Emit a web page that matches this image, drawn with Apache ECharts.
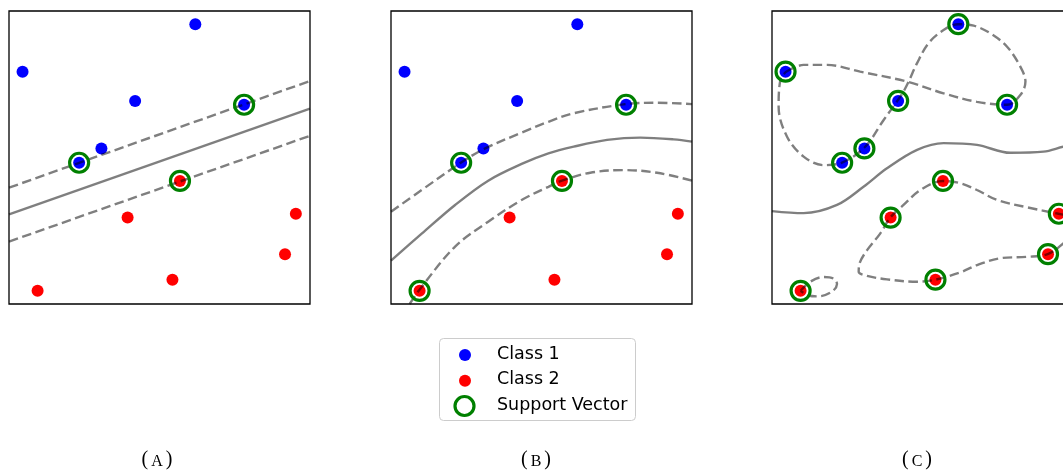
<!DOCTYPE html>
<html><head><meta charset="utf-8">
<script src="https://cdn.jsdelivr.net/npm/echarts@6/dist/echarts.min.js"></script>
<style>html,body{margin:0;padding:0;background:#fff}#c{width:1063px;height:475px}</style>
</head><body><div id="c"></div>
<script>
// Data points (shared by all three panels), x/y in 0..10 units
const class1 = [[6.19,9.55],[0.45,7.93],[4.19,6.93],[3.07,5.31],[2.33,4.82],[7.81,6.80]];
const class2 = [[5.68,4.20],[3.94,2.95],[9.53,3.08],[9.17,1.70],[5.43,0.83],[0.95,0.45]];

// Support vector indices per panel
const svA1 = [4,5], svA2 = [0];
const svB1 = [4,5], svB2 = [0,5];
const svC1 = [0,1,2,3,4,5], svC2 = [0,1,2,3,4,5];

// Panel A: linear boundary and margins
const aMid   = [[0,3.06],[10,6.67]];
const aUpper = [[0,3.97],[10,7.61]];
const aLower = [[0,2.13],[10,5.74]];

// Panel B: polynomial boundary and margins
const bMid = [[0,1.48],[1.02,2.40],[2.13,3.38],[3.23,4.21],[4.34,4.78],[5.23,5.14],[6.07,5.37],[7.18,5.60],[8.28,5.68],[9.39,5.62],[10,5.54]];
const bUpper = [[0,3.15],[1.02,3.89],[2.29,4.80],[3.07,5.28],[4.34,5.85],[5.23,6.22],[6.07,6.51],[7.78,6.82],[8.84,6.87],[10,6.82]];
const bLower = [[0.62,0],[0.94,0.48],[2.13,1.96],[3.23,2.81],[4.34,3.55],[5.23,4.00],[5.68,4.21],[6.62,4.48],[7.73,4.57],[8.84,4.48],[10,4.21]];

// Panel C: RBF boundary and margins
const cMid = [[0,3.17],[1.05,3.10],[2.16,3.38],[3.04,4.00],[3.82,4.63],[4.82,5.26],[5.70,5.49],[6.81,5.43],[7.92,5.16],[9.02,5.20],[9.68,5.37],[10.1,5.45]];
const cUpper = [[0.47,7.93],[1.05,8.16],[1.83,8.16],[2.93,7.93],[4.49,7.59],[5.70,7.19],[6.81,6.90],[7.81,6.80],[8.25,7.13],[8.42,7.59],[8.25,8.10],[7.81,8.78],[7.25,9.24],[6.70,9.50],[6.18,9.55],[5.70,9.35],[5.20,8.90],[4.82,8.22],[4.54,7.59],[4.37,7.25],[4.17,6.94],[3.71,6.28],[3.08,5.35],[2.31,4.82],[1.71,4.74],[1.05,5.03],[0.50,5.71],[0.22,6.73],[0.28,7.65],[0.47,7.93]];
const cLower = [[10.18,2.95],[9.52,3.08],[8.47,3.30],[7.48,3.55],[6.81,3.89],[6.26,4.12],[5.68,4.20],[4.93,3.89],[4.37,3.38],[3.93,2.95],[3.60,2.41],[3.16,1.84],[2.91,1.39],[2.88,1.10],[3.16,0.96],[3.82,0.84],[4.82,0.76],[5.43,0.83],[6.26,1.08],[6.81,1.33],[7.58,1.56],[8.47,1.61],[9.16,1.70],[9.68,2.07],[10.08,2.46]];
const cLoop = [[0.95,0.45],[1.27,0.76],[1.70,0.92],[2.04,0.87],[2.16,0.68],[1.99,0.42],[1.54,0.26],[1.21,0.29],[0.95,0.45]];

const captions = ['A','B','C'];
const legendLabels = ['Class 1','Class 2','Support Vector'];

const panels = [
  {left: 9,   sv1: svA1, sv2: svA2, mid: [aMid], margins: [aUpper, aLower], smooth: false},
  {left: 391, sv1: svB1, sv2: svB2, mid: [bMid], margins: [bUpper, bLower], smooth: 0.35},
  {left: 772, sv1: svC1, sv2: svC2, mid: [cMid], margins: [cUpper, cLower, cLoop], smooth: 0.35}
];

const PW = 301, PH = 293, PT = 11;
const lineColor = 'rgba(0,0,0,0.5)';

const grid = [], xAxis = [], yAxis = [], series = [];
panels.forEach((p, i) => {
  grid.push({left: p.left, top: PT, width: PW, height: PH, show: true, borderColor: '#000', borderWidth: 1.3, backgroundColor: 'transparent', outerBoundsMode: 'none', containLabel: false});
  xAxis.push({type: 'value', gridIndex: i, min: 0, max: 10, show: false});
  yAxis.push({type: 'value', gridIndex: i, min: 0, max: 10, show: false});
  series.push({type: 'scatter', xAxisIndex: i, yAxisIndex: i, data: class1, symbolSize: 12, itemStyle: {color: '#0000ff', opacity: 1}, z: 2, silent: true});
  series.push({type: 'scatter', xAxisIndex: i, yAxisIndex: i, data: class2, symbolSize: 12, itemStyle: {color: '#ff0000', opacity: 1}, z: 2, silent: true});
  p.mid.forEach(d => series.push({type: 'line', xAxisIndex: i, yAxisIndex: i, data: d, showSymbol: false, symbol: 'none', smooth: p.smooth, clip: true, lineStyle: {color: lineColor, width: 2.4}, z: 3, silent: true}));
  p.margins.forEach(d => series.push({type: 'line', xAxisIndex: i, yAxisIndex: i, data: d, showSymbol: false, symbol: 'none', smooth: p.smooth, clip: true, lineStyle: {color: lineColor, width: 2.4, type: [9.5, 4.5]}, z: 3, silent: true}));
  const sv = p.sv1.map(k => class1[k]).concat(p.sv2.map(k => class2[k]));
  series.push({type: 'scatter', xAxisIndex: i, yAxisIndex: i, data: sv, symbolSize: 19, itemStyle: {color: 'rgba(0,0,0,0)', borderColor: '#008000', borderWidth: 3.2, opacity: 1}, z: 4, silent: true});
});

const graphic = [];
// captions
const capX = [157.5, 537, 918];
captions.forEach((c, i) => {
  graphic.push({type: 'text', left: capX[i] - 16, top: 450, style: {
    text: '{p|(}{c|' + c + '}{p|)}',
    rich: {
      p: {fontFamily: 'Liberation Serif', fontSize: 20, fill: '#000', verticalAlign: 'bottom'},
      c: {fontFamily: 'Liberation Serif', fontSize: 16, fill: '#000', verticalAlign: 'bottom', padding: [0, 3, 0, 3]}
    }
  }});
});
// legend box
graphic.push({type: 'rect', shape: {x: 439.5, y: 338.5, width: 196, height: 82, r: 4}, style: {fill: '#fff', stroke: '#cccccc', lineWidth: 1}, z: 10});
const legY = [355, 380.7, 406];
graphic.push({type: 'circle', shape: {cx: 465, cy: legY[0], r: 6}, style: {fill: '#0000ff'}, z: 11});
graphic.push({type: 'circle', shape: {cx: 465, cy: legY[1], r: 6}, style: {fill: '#ff0000'}, z: 11});
graphic.push({type: 'circle', shape: {cx: 464.5, cy: legY[2], r: 9.5}, style: {fill: 'none', stroke: '#008000', lineWidth: 3.2}, z: 11});
legendLabels.forEach((t, i) => {
  graphic.push({type: 'text', x: 497, y: legY[i] - 1, style: {text: t, font: '17.5px "DejaVu Sans"', fill: '#000', verticalAlign: 'middle', align: 'left'}, z: 11});
});

const chart = echarts.init(document.getElementById('c'), null, {renderer: 'canvas'});
chart.setOption({animation: false, grid, xAxis, yAxis, series, graphic});
</script>
</body></html>
